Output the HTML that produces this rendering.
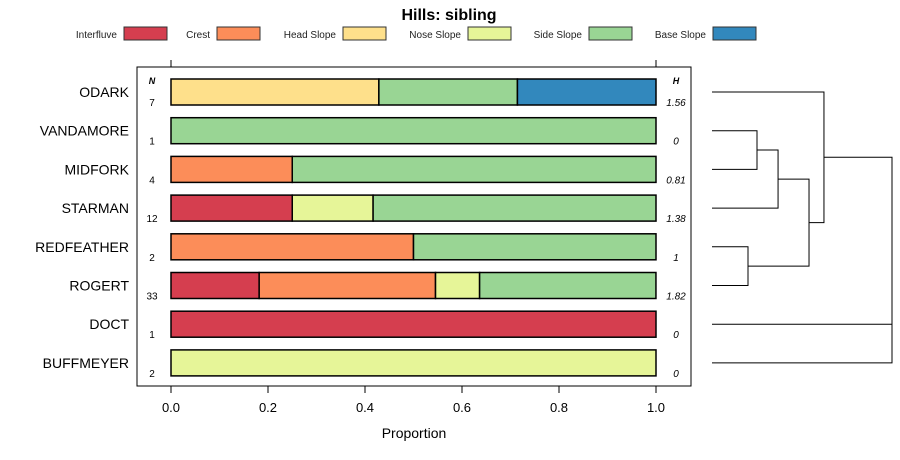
<!DOCTYPE html>
<html><head><meta charset="utf-8"><style>
body{margin:0;background:#fff}
svg{display:block;font-family:"Liberation Sans",sans-serif}
</style></head><body>
<svg id="chart" width="900" height="460" viewBox="0 0 900 460">
<text x="449" y="20" text-anchor="middle" font-size="16" font-weight="bold">Hills: sibling</text>
<g id="legend"></g>
<rect x="137" y="67" width="554" height="319" fill="none" stroke="#000" stroke-width="1"/>
<g id="bars"></g>
<g id="axis"></g>
<text x="414" y="438" text-anchor="middle" font-size="14">Proportion</text>
<text x="152" y="84" text-anchor="middle" font-size="9" font-weight="bold" font-style="italic">N</text>
<text x="676" y="84" text-anchor="middle" font-size="9" font-weight="bold" font-style="italic">H</text>
<g id="dendro" fill="none" stroke="#000" stroke-width="1"></g>
</svg>
<script>
const classes=["Interfluve","Crest","Head Slope","Nose Slope","Side Slope","Base Slope"];
const colors=["#D53E4F","#FC8D59","#FEE08B","#E6F598","#99D594","#3288BD"];
const sites=["ODARK","VANDAMORE","MIDFORK","STARMAN","REDFEATHER","ROGERT","DOCT","BUFFMEYER"];
const counts=[7,1,4,12,2,33,1,2];
const entropy=["1.56","0","0.81","1.38","1","1.82","0","0"];
const props=[
[0,0,0.4286,0,0.2857,0.2857],
[0,0,0,0,1,0],
[0,0.25,0,0,0.75,0],
[0.25,0,0,0.1667,0.5833,0],
[0,0.5,0,0,0.5,0],
[0.1818,0.3636,0,0.0909,0.3636,0],
[1,0,0,0,0,0],
[0,0,0,1,0,0]];
const ticks=[0,0.2,0.4,0.6,0.8,1.0];
const tickLabels=["0.0","0.2","0.4","0.6","0.8","1.0"];
// dendrogram merges: [leftNode,rightNode,height]; leaves 0..7, internal nodes 8+
const merges=[[1,2,0.25],[8,3,0.367],[4,5,0.2],[9,10,0.539],[0,11,0.622],[12,6,1],[13,7,1]];
const NS="http://www.w3.org/2000/svg";
function mk(tag,attrs,parent){const e=document.createElementNS(NS,tag);for(const k in attrs)e.setAttribute(k,attrs[k]);parent.appendChild(e);return e;}
const x=v=>171+v*485;
const y=i=>92+i*38.7;
const bars=document.getElementById('bars');
sites.forEach((s,i)=>{
  let t=mk('text',{x:129,y:y(i)+5,'text-anchor':'end','font-size':14},bars);t.textContent=s;
  
  let c=0;
  props[i].forEach((p,j)=>{if(p<=0)return;
    let r=mk('rect',{x:x(c),y:y(i)-13,width:x(c+p)-x(c),height:26,fill:colors[j],stroke:'#000','stroke-width':1.5},bars);
    c+=p;});
  let n=mk('text',{x:152,y:y(i)+14,'text-anchor':'middle','font-size':10},bars);n.textContent=counts[i];
  
  let h=mk('text',{x:676,y:y(i)+14,'text-anchor':'middle','font-size':10,'font-style':'italic'},bars);h.textContent=entropy[i];
  
});
const ax=document.getElementById('axis');
ticks.forEach((v,i)=>{
  let l=mk('line',{x1:x(v),x2:x(v),y1:386,y2:393,stroke:'#000'},ax);
  
  let t=mk('text',{x:x(v),y:412,'text-anchor':'middle','font-size':13},ax);t.textContent=tickLabels[i];
  
});
[0,1].forEach(v=>{let l=mk('line',{x1:x(v),x2:x(v),y1:60,y2:67,stroke:'#000'},ax);
  });
// legend
const lg=document.getElementById('legend');
const lgText=[117,210,336,461,582,706];
classes.forEach((c,j)=>{
  let t=mk('text',{x:lgText[j],y:38,'text-anchor':'end','font-size':10,fill:'#222'},lg);t.textContent=c;
  
  let r=mk('rect',{x:lgText[j]+7,y:27,width:43,height:13,fill:colors[j],stroke:'#333','stroke-width':1},lg);
  
});
// dendrogram
const dg=document.getElementById('dendro');
const dx=h=>712+h*180;
const pos={};
sites.forEach((s,i)=>pos[i]={y:y(i),x:712});
merges.forEach((m,k)=>{
  const a=pos[m[0]],b=pos[m[1]],hx=dx(m[2]);
  let p=mk('path',{d:`M${a.x},${a.y}H${hx}V${b.y}H${b.x}`},dg);
  
  pos[8+k]={x:hx,y:(a.y+b.y)/2};
});
</script>
</body></html>
